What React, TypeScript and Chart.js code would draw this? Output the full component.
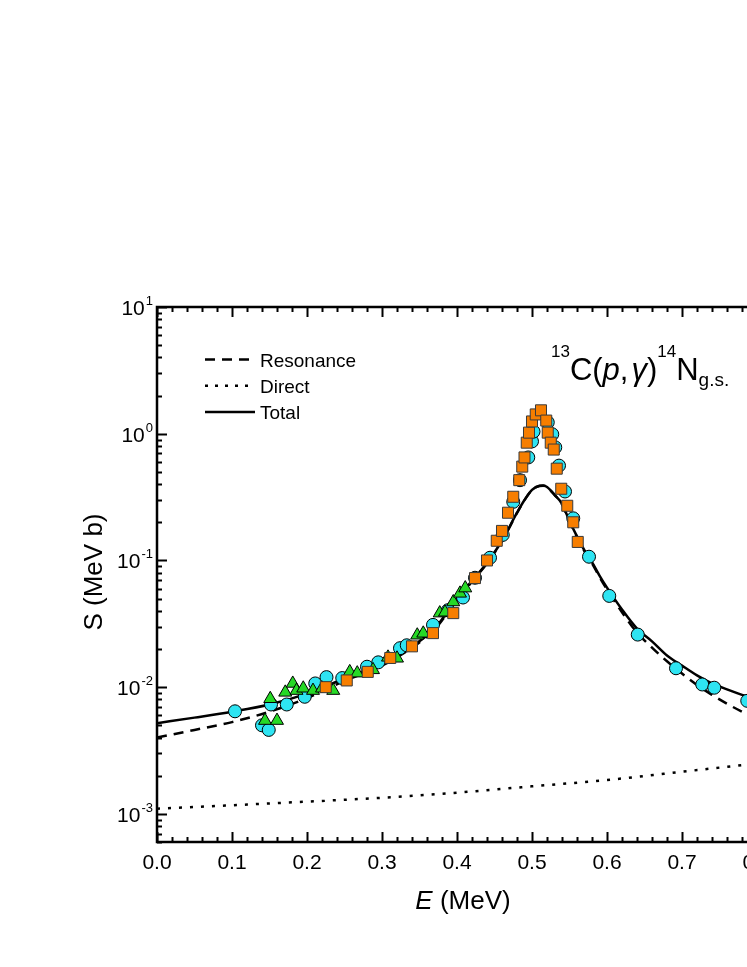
import { useEffect, useRef } from 'react'
import { Chart, registerables } from 'chart.js'

Chart.register(...registerables)

// curves (E in MeV, S in MeV b)
const totalE = [0, 0.05, 0.1, 0.15, 0.2, 0.25, 0.3, 0.34, 0.37, 0.4, 0.42, 0.44, 0.46, 0.48, 0.49, 0.5, 0.51, 0.515, 0.52, 0.53, 0.54, 0.55, 0.56, 0.57, 0.58, 0.59, 0.6, 0.62, 0.64, 0.66, 0.68, 0.7, 0.72, 0.74, 0.76, 0.78, 0.8]
const totalS = [5.2e-3, 5.75e-3, 6.4e-3, 7.3e-3, 8.9e-3, 1.17e-2, 1.52e-2, 2.1e-2, 2.9e-2, 5.0e-2, 6.9e-2, 9.6e-2, 0.143, 0.238, 0.3, 0.36, 0.388, 0.39, 0.38, 0.33, 0.28, 0.205, 0.155, 0.12, 0.097, 0.076, 0.061, 0.041, 0.029, 0.023, 0.0178, 0.0148, 0.0124, 0.0107, 0.0096, 0.0087, 0.008]

const resE = [0, 0.05, 0.1, 0.15, 0.2, 0.25, 0.3, 0.34, 0.37, 0.4, 0.42, 0.44, 0.46, 0.48, 0.49, 0.5, 0.51, 0.515, 0.52, 0.53, 0.54, 0.55, 0.56, 0.57, 0.58, 0.59, 0.6, 0.62, 0.64, 0.66, 0.68, 0.7, 0.72, 0.74, 0.76, 0.78, 0.8]
const resS = [4.0e-3, 4.6e-3, 5.3e-3, 6.4e-3, 8.2e-3, 1.12e-2, 1.48e-2, 2.05e-2, 2.85e-2, 4.9e-2, 6.8e-2, 9.5e-2, 0.142, 0.237, 0.299, 0.359, 0.387, 0.389, 0.379, 0.329, 0.278, 0.203, 0.153, 0.118, 0.095, 0.074, 0.059, 0.039, 0.027, 0.0205, 0.016, 0.0128, 0.0104, 0.0087, 0.0074, 0.0064, 0.0056]

const dirE = [0, 0.1, 0.2, 0.3, 0.4, 0.5, 0.6, 0.7, 0.8]
const dirS = [1.1e-3, 1.17e-3, 1.25e-3, 1.34e-3, 1.47e-3, 1.65e-3, 1.85e-3, 2.15e-3, 2.5e-3]

// measured points
const cyanE = [0.104, 0.14, 0.149, 0.152, 0.173, 0.197, 0.211, 0.226, 0.247, 0.28, 0.295, 0.324, 0.333, 0.368, 0.388, 0.408, 0.424, 0.444, 0.461, 0.475, 0.484, 0.495, 0.5, 0.502, 0.521, 0.527, 0.531, 0.536, 0.544, 0.555, 0.576, 0.603, 0.641, 0.692, 0.727, 0.743, 0.787]
const cyanS = [6.45e-3, 5.0e-3, 4.6e-3, 7.3e-3, 7.3e-3, 8.4e-3, 1.07e-2, 1.2e-2, 1.18e-2, 1.45e-2, 1.57e-2, 2.03e-2, 2.14e-2, 3.1e-2, 4.05e-2, 5.1e-2, 7.3e-2, 0.105, 0.159, 0.29, 0.43, 0.65, 0.87, 1.04, 1.23, 0.99, 0.78, 0.56, 0.35, 0.215, 0.107, 0.0525, 0.026, 0.0141, 0.0105, 0.0099, 0.0078]

const greenE = [0.144, 0.151, 0.16, 0.171, 0.181, 0.186, 0.195, 0.208, 0.22, 0.235, 0.257, 0.267, 0.288, 0.308, 0.32, 0.347, 0.355, 0.377, 0.384, 0.395, 0.404, 0.411]
const greenS = [5.45e-3, 8.1e-3, 5.45e-3, 9.1e-3, 1.07e-2, 9.4e-3, 9.8e-3, 9.4e-3, 9.8e-3, 9.4e-3, 1.32e-2, 1.29e-2, 1.37e-2, 1.72e-2, 1.69e-2, 2.57e-2, 2.66e-2, 3.84e-2, 3.9e-2, 4.7e-2, 5.5e-2, 6.05e-2]

const orangeE = [0.225, 0.253, 0.281, 0.311, 0.34, 0.368, 0.395, 0.424, 0.44, 0.453, 0.46, 0.468, 0.475, 0.483, 0.487, 0.49, 0.493, 0.496, 0.5, 0.505, 0.512, 0.519, 0.521, 0.525, 0.529, 0.533, 0.539, 0.547, 0.555, 0.561]
const orangeS = [1.0e-2, 1.13e-2, 1.32e-2, 1.7e-2, 2.1e-2, 2.67e-2, 3.84e-2, 7.26e-2, 0.1, 0.143, 0.171, 0.238, 0.318, 0.43, 0.55, 0.65, 0.85, 1.02, 1.25, 1.42, 1.53, 1.27, 1.02, 0.85, 0.75, 0.53, 0.368, 0.27, 0.2, 0.14]

const xTicks = [0, 0.1, 0.2, 0.3, 0.4, 0.5, 0.6, 0.7, 0.8]
const xTickLabels = ['0.0', '0.1', '0.2', '0.3', '0.4', '0.5', '0.6', '0.7', '0.8']
const yDecades = [-3, -2, -1, 0, 1]

const legendItems = [
  { label: 'Resonance', dash: [10, 7] },
  { label: 'Direct', dash: [3, 7] },
  { label: 'Total', dash: [] as number[] },
]

const FONT = '"Liberation Sans", Arial, sans-serif'

const pts = (xs: number[], ys: number[]) => xs.map((x, i) => ({ x, y: ys[i] }))

const framePlugin = {
  id: 'originFrame',
  afterDraw(chart: any) {
    const { ctx, chartArea: a, scales } = chart
    const sx = scales.x, sy = scales.y
    ctx.save()
    ctx.strokeStyle = '#000'
    ctx.fillStyle = '#000'

    // x ticks, inward on bottom and top
    ctx.lineWidth = 2
    for (let i = 0; i <= 40; i++) {
      const v = i * 0.02
      const px = Math.round(sx.getPixelForValue(v)) + 0.5
      const len = i % 5 === 0 ? 10 : 5
      ctx.beginPath()
      ctx.moveTo(px, a.bottom); ctx.lineTo(px, a.bottom - len)
      ctx.moveTo(px, a.top); ctx.lineTo(px, a.top + len)
      ctx.stroke()
    }
    // y ticks, decades + minors
    for (let d = -4; d <= 1; d++) {
      for (let k = 1; k <= 9; k++) {
        const v = k * Math.pow(10, d)
        if (v < sy.min * 0.999 || v > sy.max * 1.001) continue
        const py = Math.round(sy.getPixelForValue(v)) + 0.5
        const len = k === 1 ? 10 : 5
        ctx.beginPath()
        ctx.moveTo(a.left, py); ctx.lineTo(a.left + len, py)
        ctx.moveTo(a.right, py); ctx.lineTo(a.right - len, py)
        ctx.stroke()
      }
    }
    ctx.lineWidth = 2.5
    ctx.strokeRect(a.left, a.top, a.right - a.left, a.bottom - a.top)

    // x tick labels
    ctx.font = `21px ${FONT}`
    ctx.textAlign = 'center'
    ctx.textBaseline = 'alphabetic'
    xTicks.forEach((v, i) => ctx.fillText(xTickLabels[i], sx.getPixelForValue(v), a.bottom + 27))

    // y tick labels 10^n
    yDecades.forEach(d => {
      const py = sy.getPixelForValue(Math.pow(10, d))
      const sup = d < 0 ? '-' + Math.abs(d) : String(d)
      ctx.font = `13px ${FONT}`
      const sw = ctx.measureText(sup).width
      ctx.textAlign = 'left'
      ctx.fillText(sup, a.left - 4 - sw, py - 2)
      ctx.font = `21px ${FONT}`
      ctx.textAlign = 'right'
      ctx.fillText('10', a.left - 5 - sw, py + 8)
    })

    // axis titles
    ctx.textAlign = 'left'
    ctx.font = `italic 26px ${FONT}`
    const eW = ctx.measureText('E').width
    ctx.font = `26px ${FONT}`
    const rest = ' (MeV)'
    const rW = ctx.measureText(rest).width
    const ex = 463 - (eW + rW) / 2
    ctx.font = `italic 26px ${FONT}`
    ctx.fillText('E', ex, 909)
    ctx.font = `26px ${FONT}`
    ctx.fillText(rest, ex + eW, 909)

    ctx.save()
    ctx.translate(102, 572)
    ctx.rotate(-Math.PI / 2)
    ctx.textAlign = 'center'
    ctx.fillText('S (MeV b)', 0, 0)
    ctx.restore()

    // legend
    legendItems.forEach((it, i) => {
      const y = 359.5 + i * 26.3
      ctx.lineWidth = 2.5
      ctx.setLineDash(it.dash)
      ctx.beginPath()
      ctx.moveTo(205, y); ctx.lineTo(it.dash.length ? 250 : 255, y)
      ctx.stroke()
      ctx.setLineDash([])
      ctx.font = `19px ${FONT}`
      ctx.textAlign = 'left'
      ctx.fillText(it.label, 260, y + 7)
    })

    // reaction label 13C(p,γ)14N g.s.
    const parts: [string, string, number][] = [
      ['13', `17px ${FONT}`, -23],
      ['C(', `31px ${FONT}`, 0],
      ['p', `italic 31px ${FONT}`, 0],
      [',', `31px ${FONT}`, 0],
      ['γ', `italic 31px ${FONT}`, 0],
      [')', `31px ${FONT}`, 0],
      ['14', `17px ${FONT}`, -23],
      ['N', `31px ${FONT}`, 0],
      ['g.s.', `19px ${FONT}`, 6],
    ]
    let tx = 551
    ctx.textAlign = 'left'
    parts.forEach(([t, f, dy]) => {
      ctx.font = f
      ctx.fillText(t, tx, 380 + dy)
      tx += ctx.measureText(t).width + (t === ',' ? 3 : 0)
    })
    ctx.restore()
  },
}

export default function App() {
  const canvasRef = useRef<HTMLCanvasElement>(null)

  useEffect(() => {
    if (!canvasRef.current) return
    const line = (xs: number[], ys: number[], dash: number[]) => ({
      type: 'line' as const,
      data: pts(xs, ys),
      borderColor: '#000',
      borderWidth: 2.5,
      borderDash: dash,
      pointRadius: 0,
      fill: false,
      showLine: true,
      cubicInterpolationMode: 'monotone' as const,
    })
    const chart = new Chart(canvasRef.current, {
      type: 'scatter',
      data: {
        datasets: [
          { data: pts(orangeE, orangeS), pointStyle: 'rect', pointRadius: 7.8, backgroundColor: '#F77E00', borderColor: '#3a3a3a', borderWidth: 1 },
          { data: pts(greenE, greenS), pointStyle: 'triangle', pointRadius: 7.5, backgroundColor: '#26D926', borderColor: '#000', borderWidth: 1 },
          { data: pts(cyanE, cyanS), pointStyle: 'circle', pointRadius: 6.5, backgroundColor: '#2EE4F2', borderColor: '#000', borderWidth: 1 },
          line(totalE, totalS, []),
          line(resE, resS, [10, 7]),
          line(dirE, dirS, [3, 8]),
        ] as any,
      },
      options: {
        animation: false,
        responsive: false,
        events: [],
        layout: { padding: { left: 157, top: 307, right: 73, bottom: 125 } },
        scales: {
          x: { type: 'linear', min: 0, max: 0.8, display: false },
          y: { type: 'logarithmic', min: 6e-4, max: 10, display: false },
        },
        plugins: { legend: { display: false }, tooltip: { enabled: false } },
      },
      plugins: [framePlugin],
    })
    return () => chart.destroy()
  }, [])

  return (
    <div style={{ position: 'fixed', left: 0, top: 0, width: 747, height: 967, overflow: 'hidden', background: '#fff' }}>
      <canvas ref={canvasRef} width={830} height={967} style={{ display: 'block', width: 830, height: 967 }} />
    </div>
  )
}
